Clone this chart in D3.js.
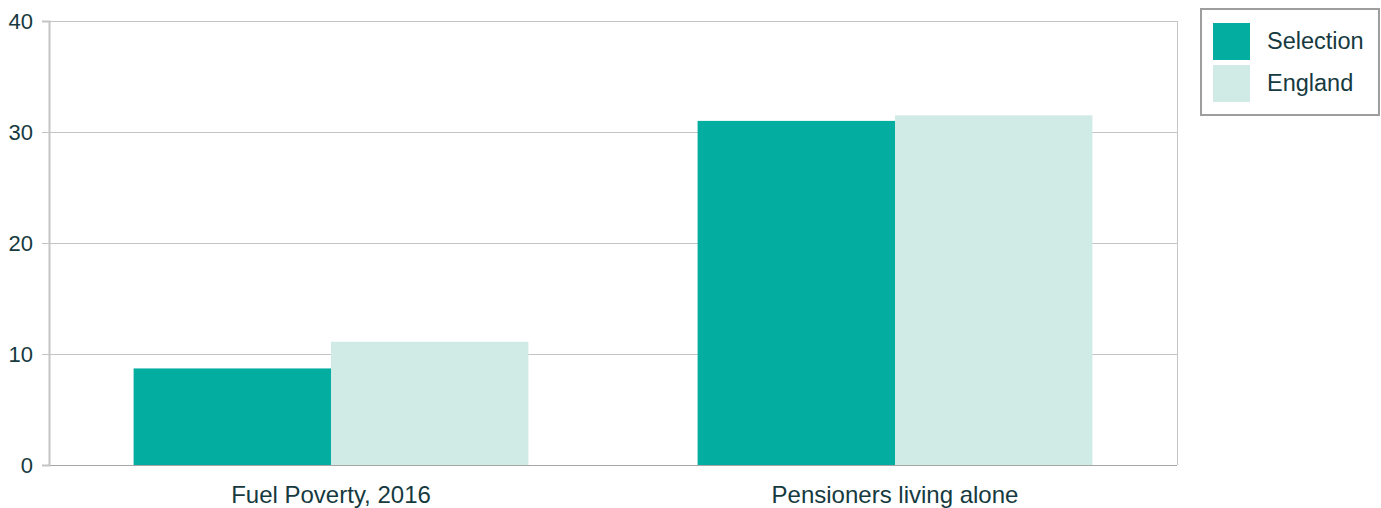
<!DOCTYPE html>
<html lang="en">
<head>
    <meta charset="UTF-8">
    <title>Fuel poverty chart</title>
    <script src="https://cdn.jsdelivr.net/npm/d3@7"></script>
    <style>
        body {
            margin: 0;
            background-color: #ffffff;
            font-family: "Liberation Sans", Arial, sans-serif;
        }
        .tick text {
            fill: #163a40;
        }
    </style>
</head>
<body>
    <svg id="chart" width="1381" height="508"></svg>

    <script>
        // data
        let categories = ["Fuel Poverty, 2016", "Pensioners living alone"]
        let seriesNames = ["Selection", "England"]
        let selectionValues = [8.7, 31.0]
        let englandValues = [11.1, 31.5]
        let yTicks = [0, 10, 20, 30, 40]
        let colours = ["#03ada0", "#d0eae6"]

        let svg = d3.select("#chart")
        let margin = {left: 49, right: 204, top: 21, bottom: 43}
        let width = 1381 - margin.left - margin.right
        let height = 508 - margin.top - margin.bottom

        let g = svg.append("g")
            .attr("transform", "translate(" + margin.left + "," + margin.top + ")")

        let x = d3.scaleBand()
            .domain(categories)
            .range([0, width])
            .paddingInner(0.3)
            .paddingOuter(0.15)
        // band covering the full category slot, for label centring
        let xOuter = d3.scaleBand().domain(categories).range([0, width])
        let xInner = d3.scaleBand().domain(seriesNames).range([0, x.bandwidth()])

        let y = d3.scaleLinear().domain([0, 40]).range([height, 0])

        // gridlines
        g.append("g")
            .selectAll("line")
            .data(yTicks)
            .enter()
            .append("line")
            .attr("x1", 0)
            .attr("x2", width)
            .attr("y1", d => y(d) + 0.5)
            .attr("y2", d => y(d) + 0.5)
            .attr("stroke", d => d === 0 ? "#a6a6a6" : "#c4c4c4")
            .attr("stroke-width", 1)

        // right border
        g.append("line")
            .attr("x1", width + 0.5).attr("x2", width + 0.5)
            .attr("y1", 0).attr("y2", height)
            .attr("stroke", "#c4c4c4")

        // bars
        let rows = categories.map((c, i) => ({cat: c, vals: [selectionValues[i], englandValues[i]]}))
        let groups = g.selectAll(".grp")
            .data(rows)
            .enter()
            .append("g")
            .attr("class", "grp")
            .attr("transform", d => "translate(" + (xOuter(d.cat) + (xOuter.bandwidth() - x.bandwidth()) / 2) + ",0)")

        groups.selectAll("rect")
            .data(d => d.vals.map((v, j) => ({name: seriesNames[j], v: v, j: j})))
            .enter()
            .append("rect")
            .attr("x", d => xInner(d.name))
            .attr("width", xInner.bandwidth())
            .attr("y", d => y(d.v))
            .attr("height", d => y(0) - y(d.v))
            .attr("fill", d => colours[d.j])

        // y axis
        let yAxis = g.append("g")
            .call(d3.axisLeft(y).tickValues(yTicks).tickSize(7).tickPadding(9))
        yAxis.select(".domain").attr("stroke", "#c4c4c4").attr("stroke-width", 2)
        yAxis.selectAll(".tick line").attr("stroke", "#c4c4c4")
        yAxis.selectAll("text").attr("font-size", "22px").attr("font-family", "Liberation Sans, Arial, sans-serif")

        // x labels
        g.append("g")
            .selectAll("text")
            .data(categories)
            .enter()
            .append("text")
            .attr("x", d => xOuter(d) + xOuter.bandwidth() / 2)
            .attr("y", height + 38)
            .attr("text-anchor", "middle")
            .attr("font-size", "24px")
            .attr("fill", "#163a40")
            .text(d => d)

        // legend
        let legend = svg.append("g").attr("transform", "translate(1201,9)")
        legend.append("rect")
            .attr("width", 178)
            .attr("height", 106)
            .attr("fill", "#ffffff")
            .attr("stroke", "#9e9e9e")
            .attr("stroke-width", 2)
        let items = legend.selectAll(".item")
            .data(seriesNames)
            .enter()
            .append("g")
            .attr("class", "item")
            .attr("transform", (d, i) => "translate(12," + (14 + i * 42) + ")")
        items.append("rect")
            .attr("width", 37)
            .attr("height", 37)
            .attr("fill", (d, i) => colours[i])
        items.append("text")
            .attr("x", 54)
            .attr("y", 26)
            .attr("font-size", "23.5px")
            .attr("fill", "#163a40")
            .text(d => d)
    </script>
</body>
</html>
